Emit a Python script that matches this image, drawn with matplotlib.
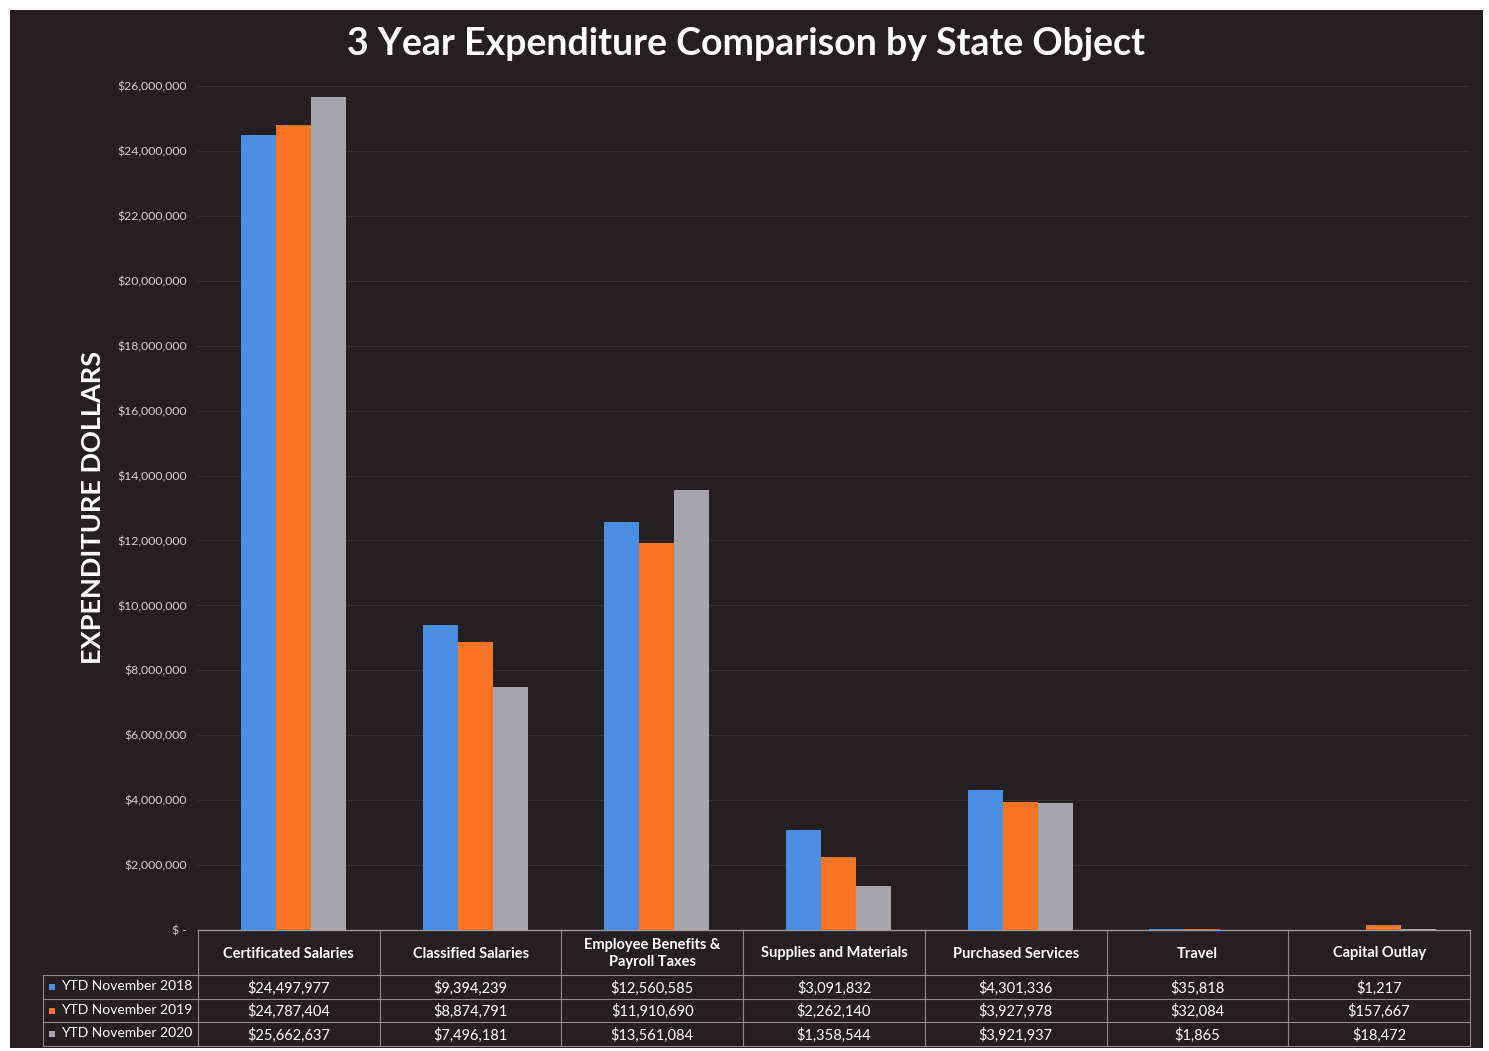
import matplotlib.pyplot as plt
import matplotlib.transforms as mtransforms
from matplotlib.patches import Rectangle
import numpy as np

categories = ['Certificated Salaries', 'Classified Salaries', 'Employee Benefits &\nPayroll Taxes',
              'Supplies and Materials', 'Purchased Services', 'Travel', 'Capital Outlay']
series_names = ['YTD November 2018', 'YTD November 2019', 'YTD November 2020']
ytd_2018 = [24497977, 9394239, 12560585, 3091832, 4301336, 35818, 1217]
ytd_2019 = [24787404, 8874791, 11910690, 2262140, 3927978, 32084, 157667]
ytd_2020 = [25662637, 7496181, 13561084, 1358544, 3921937, 1865, 18472]
yticks = np.arange(0, 26000001, 2000000)

colors = ['#4a8fe2', '#ff7324', '#a6a6aa']
bg = '#242021'
fnt = 'Lato'

W, H = 1489, 1051
fig = plt.figure(figsize=(W / 100, H / 100), dpi=100, facecolor='white')
# dark chart area (scan leaves a thin white margin)
fig.patches.append(Rectangle((10 / W, 3 / H), 1473 / W, 1038 / H, transform=fig.transFigure,
                             facecolor=bg, edgecolor='none', zorder=-10))

left, right, top, bottom = 198, 1470, 86, 930
ax = fig.add_axes([left / W, 1 - bottom / H, (right - left) / W, (bottom - top) / H])
ax.set_facecolor('none')

x = np.arange(len(categories))
bw = 0.193
for i, (vals, name) in enumerate(zip([ytd_2018, ytd_2019, ytd_2020], series_names)):
    ax.bar(x + (i - 1) * bw + 0.025, vals, width=bw, color=colors[i], label=name, zorder=3)

ax.set_xlim(-0.5, len(categories) - 0.5)
ax.set_ylim(0, 26000000)
ax.set_yticks(yticks)
ax.set_yticklabels(['$ -' if v == 0 else '${:,.0f}'.format(v) for v in yticks],
                   fontsize=8.8, color='#d4d4d4', family=fnt)
ax.tick_params(axis='y', length=0, pad=8)
ax.set_xticks([])
ax.grid(axis='y', color='#34302f', lw=0.8, zorder=0)
for s in ['top', 'right', 'left']:
    ax.spines[s].set_visible(False)
ax.spines['bottom'].set_color('#9a9a9a')
ax.spines['bottom'].set_linewidth(1.0)

ax.set_ylabel('EXPENDITURE DOLLARS', fontsize=19.5, fontweight='bold', color='white',
              family=fnt, labelpad=9)

fig.text(746 / W, 1 - 44 / H, '3 Year Expenditure Comparison by State Object', ha='center',
         va='center', fontsize=27, fontweight='bold', color='white', family=fnt)

# data table under the axis
tr = mtransforms.blended_transform_factory(ax.transData, fig.transFigure)
fy = lambda py: 1 - py / H
row_edges = [930, 975, 999, 1022, 1046]
lc = '#8c8c8c'
for j, cat in enumerate(categories):
    ax.text(j, fy((row_edges[0] + row_edges[1]) / 2 + 1), cat, transform=tr, ha='center',
            va='center', fontsize=10.5, color='white', family=fnt, fontweight='bold',
            linespacing=1.35, clip_on=False)
    for r, vals in enumerate([ytd_2018, ytd_2019, ytd_2020]):
        ax.text(j, fy((row_edges[r + 1] + row_edges[r + 2]) / 2 + 1), '${:,.0f}'.format(vals[j]),
                transform=tr, ha='center', va='center', fontsize=10.5, color='white',
                family=fnt, clip_on=False)
# vertical lines between columns
for k in range(len(categories) + 1):
    ax.plot([k - 0.5, k - 0.5], [fy(930), fy(1046)], transform=tr, color=lc, lw=0.8,
            clip_on=False)
for ry in row_edges[1:]:
    fig.add_artist(plt.Line2D([43 / W, right / W], [fy(ry), fy(ry)], color=lc, lw=0.8))
fig.add_artist(plt.Line2D([43 / W, 43 / W], [fy(975), fy(1046)], color=lc, lw=0.8))

# row labels with legend keys
for r, name in enumerate(series_names):
    yc = fy((row_edges[r + 1] + row_edges[r + 2]) / 2)
    fig.patches.append(Rectangle((49 / W, yc - 3 / H), 6 / W, 6 / H, transform=fig.transFigure,
                                 facecolor=colors[r], edgecolor='none', zorder=5))
    fig.text(61 / W, yc + 1 / H, name, ha='left', va='center', fontsize=10, color='white',
             family=fnt)

fig.savefig('out.png', dpi=100, facecolor='white')
